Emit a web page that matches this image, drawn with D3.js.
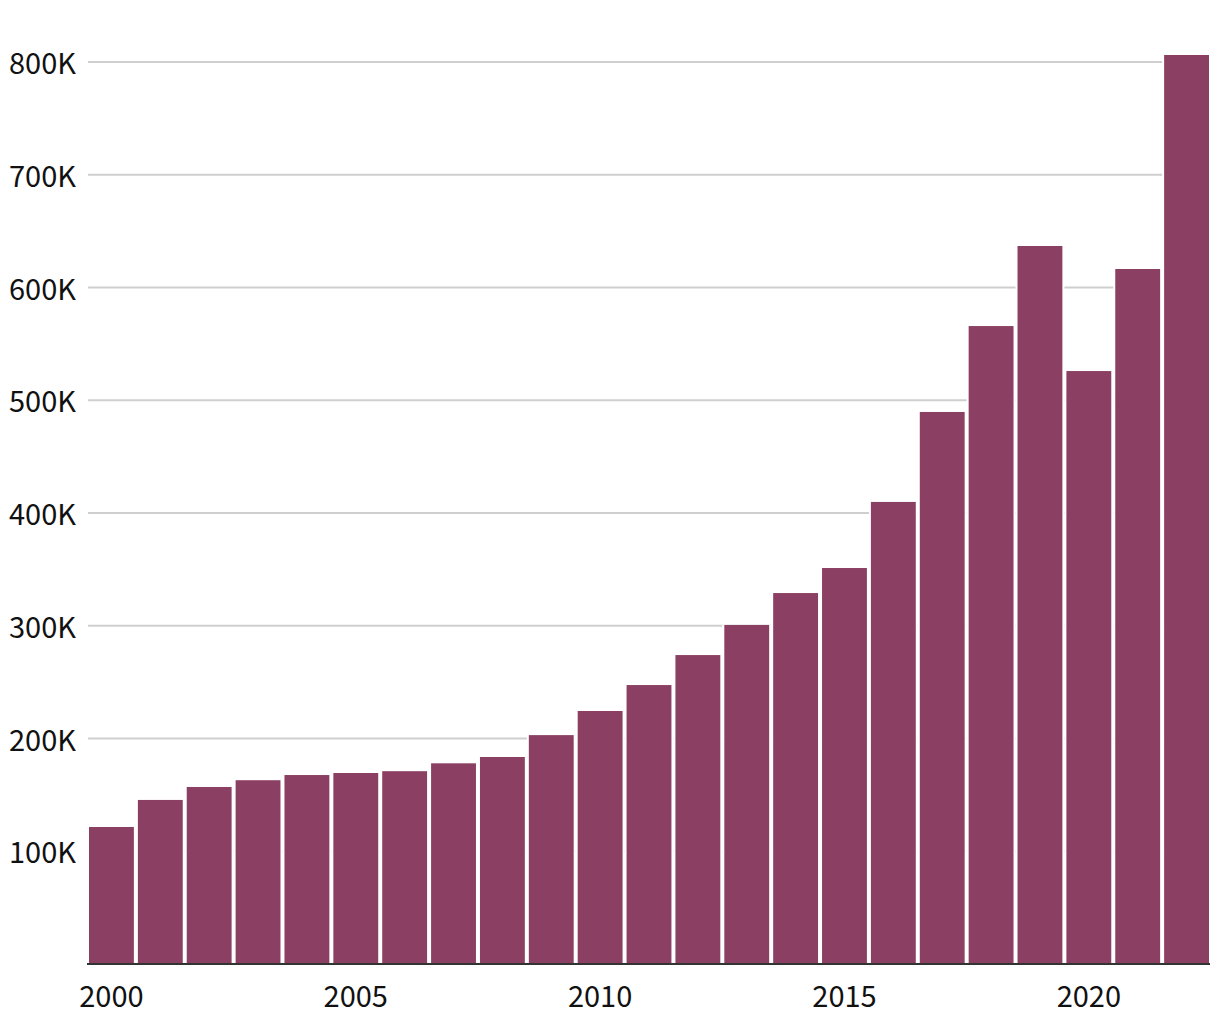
<!DOCTYPE html>
<html>
<head>
<meta charset="utf-8">
<script src="https://cdn.jsdelivr.net/npm/d3@7"></script>
<style>
  html, body { margin: 0; padding: 0; background: #fff; }
  svg { display: block; }
  text { font-family: "Noto Sans CJK JP", "Noto Sans", sans-serif; fill: #111; }
</style>
</head>
<body>
<svg id="chart" width="1220" height="1020"></svg>
<script>
const years = [2000,2001,2002,2003,2004,2005,2006,2007,2008,2009,2010,2011,2012,2013,2014,2015,2016,2017,2018,2019,2020,2021,2022];
const values = [121500,145500,157000,163000,167600,169400,171000,178000,183600,203000,224400,247400,274000,300700,329000,351200,409800,489600,565800,636800,525900,616400,806200];
const yTicks = [100000,200000,300000,400000,500000,600000,700000,800000];
const yTickLabels = ["100K","200K","300K","400K","500K","600K","700K","800K"];
const xTickYears = [2000,2005,2010,2015,2020];

const svg = d3.select("#chart");
const x = d3.scaleBand().domain(years).range([87, 1211]).padding(0);
const y = d3.scaleLinear().domain([0, 800000]).range([964, 62]);
const gap = 2;

// gridlines
svg.append("g").selectAll("line").data(yTicks).join("line")
  .attr("x1", 88).attr("x2", 1211)
  .attr("y1", d => y(d)).attr("y2", d => y(d))
  .attr("stroke", "#cfcfcf").attr("stroke-width", 2);

// y labels
svg.append("g").selectAll("text").data(yTicks).join("text")
  .attr("x", 76).attr("y", d => y(d) - 1)
  .attr("text-anchor", "end").attr("dominant-baseline", "central")
  .attr("font-size", 29)
  .text((d, i) => yTickLabels[i]);

// white masks behind bars (hide gridlines in the gaps)
svg.append("g").selectAll("rect").data(years).join("rect")
  .attr("x", d => x(d)).attr("width", x.bandwidth())
  .attr("y", (d, i) => y(values[i]))
  .attr("height", (d, i) => y(0) - y(values[i]))
  .attr("fill", "#ffffff");

// bars
svg.append("g").selectAll("rect").data(years).join("rect")
  .attr("x", d => x(d) + gap).attr("width", x.bandwidth() - 2 * gap)
  .attr("y", (d, i) => y(values[i]))
  .attr("height", (d, i) => y(0) - y(values[i]))
  .attr("fill", "#8b3f62");

// baseline
svg.append("line")
  .attr("x1", 87).attr("x2", 1210).attr("y1", 964).attr("y2", 964)
  .attr("stroke", "#333333").attr("stroke-width", 2);

// x labels
svg.append("g").selectAll("text").data(xTickYears).join("text")
  .attr("x", d => x(d) + x.bandwidth() / 2).attr("y", 994)
  .attr("text-anchor", "middle").attr("dominant-baseline", "central")
  .attr("font-size", 29)
  .text(d => d);
</script>
</body>
</html>
